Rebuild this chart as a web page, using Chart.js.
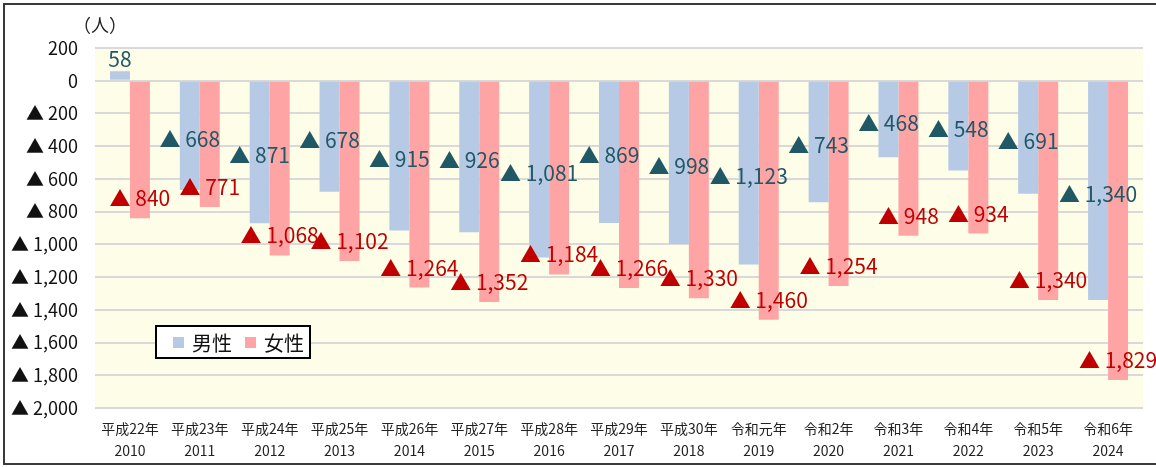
<!DOCTYPE html>
<html lang="ja">
<head>
<meta charset="utf-8">
<script src="https://cdn.jsdelivr.net/npm/chart.js@4"></script>
<style>
  html, body { margin: 0; padding: 0; background: #fff; overflow: hidden; }
  #wrap { position: relative; width: 1156px; height: 467px; }
  #frame { position: absolute; left: 3px; top: 3px; width: 1170px; height: 458px;
           border: 2px solid #3a3a3a; pointer-events: none; }
</style>
</head>
<body>
<div id="wrap">
  <canvas id="chart" width="1156" height="467"></canvas>
  <div id="frame"></div>
</div>
<script>
// data (negatives = decrease)
const eraLabels = ['平成22年', '平成23年', '平成24年', '平成25年', '平成26年', '平成27年', '平成28年', '平成29年',
                   '平成30年', '令和元年', '令和2年', '令和3年', '令和4年', '令和5年', '令和6年'];
const years = ['2010', '2011', '2012', '2013', '2014', '2015', '2016', '2017',
               '2018', '2019', '2020', '2021', '2022', '2023', '2024'];
const male = [58, -668, -871, -678, -915, -926, -1081, -869, -998, -1123, -743, -468, -548, -691, -1340];
const female = [-840, -771, -1068, -1102, -1264, -1352, -1184, -1266, -1330, -1460, -1254, -948, -934, -1340, -1829];
const yMin = -2000, yMax = 200, yStep = 200;

const FONT = "'Noto Sans CJK JP', 'Noto Sans', sans-serif";
const fmt = v => (v < 0 ? '▲ ' : '') + Math.abs(v).toLocaleString('en-US');

Chart.defaults.font.family = FONT;
Chart.defaults.color = '#222';

// plot background
const bgPlugin = {
    id: 'plotBg',
    beforeDraw(chart) {
        const { ctx, chartArea: a } = chart;
        ctx.save();
        ctx.fillStyle = '#fdfde8';
        ctx.fillRect(a.left, a.top, a.right - a.left, a.bottom - a.top);
        ctx.restore();
    }
};

// value labels, unit and boxed legend
const labelPlugin = {
    id: 'valueLabels',
    afterDatasetsDraw(chart) {
        const ctx = chart.ctx;
        ctx.save();
        ctx.font = '21px ' + FONT;
        ctx.textAlign = 'center';
        ctx.textBaseline = 'middle';
        chart.data.datasets.forEach((ds, di) => {
            chart.getDatasetMeta(di).data.forEach((bar, i) => {
                const v = ds.data[i];
                let y;
                if (di === 0) {
                    y = v >= 0 ? bar.y - 12 : (bar.y + bar.base) / 2 + 3;
                } else {
                    y = bar.y - 20;
                }
                ctx.fillStyle = ds.labelColor;
                ctx.fillText(fmt(v), bar.x, y);
            });
        });
        ctx.restore();
    },
    afterDraw(chart) {
        const ctx = chart.ctx;
        ctx.save();
        // unit
        ctx.fillStyle = '#222';
        ctx.font = '18px ' + FONT;
        ctx.textAlign = 'center';
        ctx.textBaseline = 'middle';
        ctx.fillText('（人）', 100, 25);

        // legend box
        const lx = 156, ly = 326, lw = 154, lh = 32;
        ctx.fillStyle = '#fff';
        ctx.fillRect(lx, ly, lw, lh);
        ctx.strokeStyle = '#000';
        ctx.lineWidth = 2;
        ctx.strokeRect(lx, ly, lw, lh);
        ctx.font = '20px ' + FONT;
        ctx.textAlign = 'left';
        let x = lx + 17;
        chart.data.datasets.forEach(ds => {
            ctx.fillStyle = ds.backgroundColor;
            ctx.fillRect(x, ly + 11, 11, 11);
            ctx.fillStyle = '#111';
            ctx.fillText(ds.label, x + 19, ly + lh / 2 + 1);
            x += 72;
        });
        ctx.restore();
    }
};

new Chart(document.getElementById('chart'), {
    type: 'bar',
    data: {
        labels: eraLabels.map((e, i) => [e, years[i]]),
        datasets: [
            { label: '男性', data: male, backgroundColor: '#b6c9e5', labelColor: '#205866' },
            { label: '女性', data: female, backgroundColor: '#ffa4a4', labelColor: '#c00000' }
        ]
    },
    options: {
        responsive: false,
        animation: false,
        categoryPercentage: 0.572,
        barPercentage: 1,
        layout: { padding: { top: 48, right: 13, left: 0, bottom: 0 } },
        plugins: { legend: { display: false }, tooltip: { enabled: false } },
        scales: {
            x: {
                grid: { display: false },
                border: { display: false },
                ticks: { font: { size: 14, lineHeight: 1.55 }, color: '#222', padding: 2, maxRotation: 0, autoSkip: false },
                afterFit(s) { s.height = 59; }
            },
            y: {
                min: yMin,
                max: yMax,
                grid: { color: '#d9d9d9', lineWidth: 2, drawTicks: false },
                border: { display: false },
                ticks: {
                    stepSize: yStep,
                    font: { size: 18 },
                    color: '#111',
                    padding: 17,
                    callback: v => fmt(v)
                },
                afterFit(s) { s.width = 95; }
            }
        }
    },
    plugins: [bgPlugin, labelPlugin]
});
</script>
</body>
</html>
